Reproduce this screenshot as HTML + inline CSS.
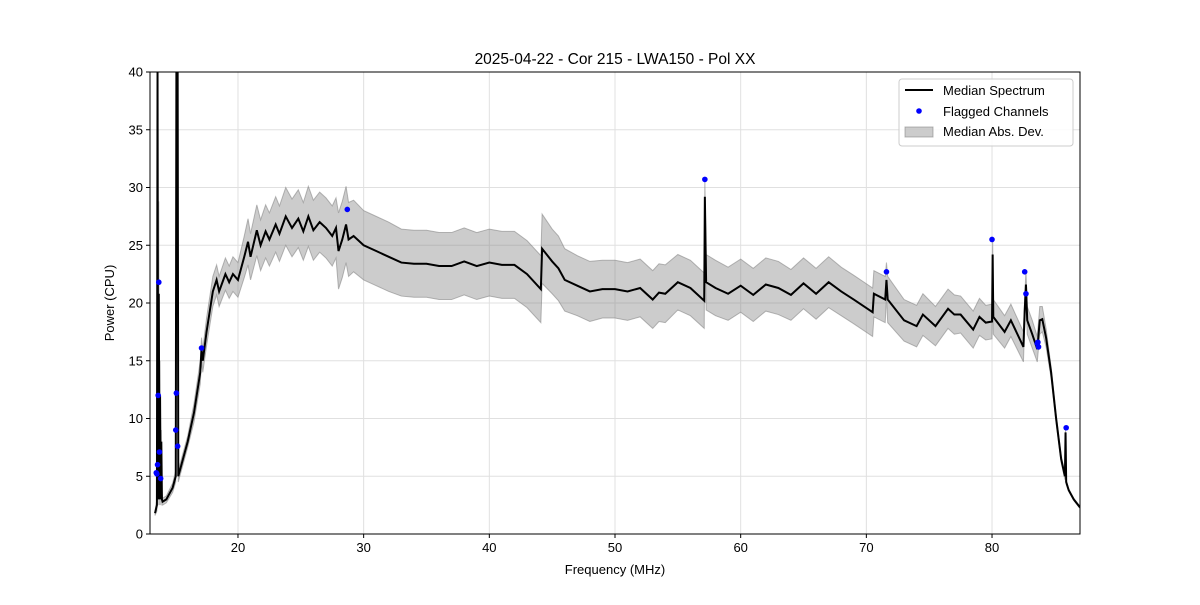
<!DOCTYPE html>
<html><head><meta charset="utf-8"><style>
body{margin:0;background:#fff}
svg text{font-family:"Liberation Sans","DejaVu Sans",sans-serif;fill:#000}
</style></head><body>
<svg id="c" width="1200" height="600" xmlns="http://www.w3.org/2000/svg"></svg>
<script>
const freqs=[13.4,13.55,13.6,13.65,13.7,13.75,13.8,13.85,13.9,13.95,14.0,14.3,14.8,15.05,15.1,15.2,15.25,15.5,16.0,16.5,17.0,17.1,17.2,17.5,18.0,18.3,18.5,19.0,19.3,19.6,20.0,20.5,20.8,21.0,21.5,21.8,22.2,22.5,23.0,23.3,23.8,24.3,24.8,25.2,25.6,26.0,26.5,27.0,27.5,27.8,28.0,28.3,28.6,28.8,29.2,30,31,32,33,34,35,36,37,38,39,40,41,42,43,44.1,44.2,45,45.5,46,47,48,49,50,51,52,53,53.5,54,55,56,57.1,57.15,57.25,58,59,60,61,62,63,64,65,66,67,68,69,70.5,70.6,71.5,71.6,71.7,73,74,74.5,75.5,76.5,77,77.5,78.5,79,79.5,80,80.05,80.1,81,81.5,82.5,82.6,82.7,82.8,83.2,83.6,83.8,84.0,84.3,84.7,85.1,85.5,85.8,85.85,85.9,86.1,86.5,87];
const median=[1.8,2.5,40,3,20.8,3,12,3,8,3,2.8,3.0,4.0,5,40,40,5,6,8,10.5,14,16,15,17.5,21,22,21,22.5,21.8,22.5,22,24,25.3,24,26.3,25,26.2,25.5,26.8,26,27.5,26.5,27.3,26.2,27.5,26.3,27,26.5,25.8,26.5,24.5,25.5,26.8,25.5,25.8,25,24.5,24,23.5,23.4,23.4,23.2,23.2,23.6,23.2,23.5,23.3,23.3,22.5,21.2,24.7,23.6,23,22,21.5,21,21.2,21.2,21,21.3,20.3,20.9,20.8,21.8,21.3,20.2,29.2,21.8,21.3,20.8,21.5,20.7,21.6,21.3,20.7,21.7,20.8,21.8,21,20.3,19.2,20.8,20.3,22,20.3,18.5,18,19,18,19.5,19,19,17.7,18.8,18.3,18.4,24.2,18.8,17.5,18.5,16.2,19.3,21.6,18.5,17.3,16,18.5,18.6,17,14,10,6.5,5,8.8,4.5,3.8,3,2.3];
const mad=[0.2,0.5,6,0.5,8,0.5,3,0.5,1,0.5,0.3,0.3,0.4,0.5,3,3,0.5,0.5,0.5,0.8,1,1,1,1.2,1.3,1.3,1.3,1.4,1.4,1.5,1.5,1.8,2,2,2.2,2.2,2.3,2.3,2.4,2.4,2.5,2.5,2.5,2.5,2.6,2.6,2.6,2.6,2.6,2.6,3.3,3.3,3.3,3.2,3.1,3,3,3,2.9,2.9,2.9,2.9,2.9,2.9,2.9,2.9,2.9,2.9,2.9,2.9,3,2.8,2.8,2.7,2.6,2.6,2.5,2.5,2.5,2.5,2.5,2.5,2.5,2.4,2.4,2.4,1.5,2.4,2.4,2.3,2.3,2.3,2.3,2.3,2.2,2.2,2.2,2.2,2.1,2.1,2.1,2,2,1.5,2,1.8,1.8,1.8,1.7,1.7,1.7,1.6,1.6,1.6,1.5,1.5,1.2,1.5,1.4,1.4,1.3,1.2,1.2,1.2,1.2,1.1,1.2,1.1,0.8,0.5,0.4,0.3,0.3,0.3,0.2,0.1,0.1,0.1];
const flagF=[13.5,13.55,13.6,13.65,13.7,13.75,13.85,15.05,15.1,15.2,17.1,28.7,57.15,71.6,80.0,82.6,82.7,83.6,83.65,83.7,85.9];
const flagV=[5.3,5.2,6,12,21.8,7.1,4.8,9,12.2,7.6,16.1,28.1,30.7,22.7,25.5,22.7,20.8,16.5,16.6,16.2,9.2];
const xTicks=[20,30,40,50,60,70,80];
const yTicks=[0,5,10,15,20,25,30,35,40];

const L=150,R=1080,T=72,B=534,X0=13,X1=87,Y0=0,Y1=40;
const xs=f=>L+(f-X0)/(X1-X0)*(R-L);
const ys=v=>B-(Math.min(v,Y1+1)-Y0)/(Y1-Y0)*(B-T);
const svg=document.getElementById('c');
const NS='http://www.w3.org/2000/svg';
function mk(tag,attrs,parent){const e=document.createElementNS(NS,tag);for(const k in attrs)e.setAttribute(k,attrs[k]);(parent||svg).appendChild(e);return e;}

const defs=mk('defs',{});const cp=mk('clipPath',{id:'clip'},defs);mk('rect',{x:L,y:T,width:R-L,height:B-T},cp);

xTicks.forEach(t=>{const g=mk('line',{x1:xs(t),x2:xs(t),y1:T,y2:B,stroke:'#e0e0e0','stroke-width':1});

});
yTicks.forEach(t=>{const g=mk('line',{x1:L,x2:R,y1:ys(t),y2:ys(t),stroke:'#e0e0e0','stroke-width':1});

});

const plot=mk('g',{'clip-path':'url(#clip)'});
let up=freqs.map((f,i)=>xs(f)+','+ys(median[i]+mad[i]));
let lo=freqs.map((f,i)=>xs(f)+','+ys(median[i]-mad[i])).reverse();
const band=mk('polygon',{points:up.concat(lo).join(' '),fill:'rgba(128,128,128,0.4)',stroke:'rgba(128,128,128,0.55)','stroke-width':1},plot);


const line=mk('polyline',{points:freqs.map((f,i)=>xs(f)+','+ys(median[i])).join(' '),fill:'none',stroke:'#000','stroke-width':2,'stroke-linejoin':'miter'},plot);


flagF.forEach((f,i)=>{const c=mk('circle',{cx:xs(f),cy:ys(flagV[i]),r:2.8,fill:'#0000ff'},plot);

});

const fr=mk('rect',{x:L,y:T,width:R-L,height:B-T,fill:'none',stroke:'#000','stroke-width':1});


xTicks.forEach(t=>{mk('line',{x1:xs(t),x2:xs(t),y1:B,y2:B+4,stroke:'#000'});
const tx=mk('text',{x:xs(t),y:B+18,'text-anchor':'middle','font-size':13});tx.textContent=t;

});
yTicks.forEach(t=>{mk('line',{x1:L-4,x2:L,y1:ys(t),y2:ys(t),stroke:'#000'});
const tx=mk('text',{x:L-7,y:ys(t)+4.5,'text-anchor':'end','font-size':13});tx.textContent=t;

});
</script>
<svg style="position:absolute;left:0;top:0" width="1200" height="600" xmlns="http://www.w3.org/2000/svg">
<text x="615" y="64" text-anchor="middle" font-size="15.5">2025-04-22 - Cor 215 - LWA150 - Pol XX</text>
<text x="615" y="574" text-anchor="middle" font-size="13">Frequency (MHz)</text>
<text x="114" y="303" text-anchor="middle" font-size="13" transform="rotate(-90 114 303)">Power (CPU)</text>
<g>
<rect x="899" y="79" width="174" height="67" rx="3" fill="#fff" fill-opacity="0.85" stroke="#ccc"/>
<line x1="905" y1="90" x2="933" y2="90" stroke="#000" stroke-width="2"/>
<text x="943" y="95" font-size="13">Median Spectrum</text>
<circle cx="919" cy="111" r="2.8" fill="#0000ff"/>
<text x="943" y="116" font-size="13">Flagged Channels</text>
<rect x="905" y="127" width="28" height="10" fill="rgba(128,128,128,0.4)" stroke="rgba(128,128,128,0.55)"/>
<text x="943" y="136" font-size="13">Median Abs. Dev.</text>
</g>
</svg>
</body></html>
